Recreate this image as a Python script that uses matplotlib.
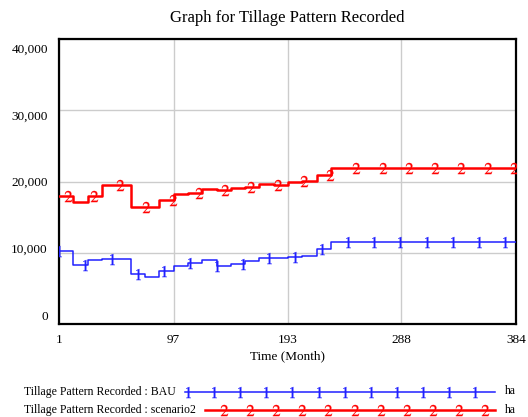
import numpy as np
import matplotlib
matplotlib.use("Agg")
import matplotlib.pyplot as plt

plt.rcParams["font.family"] = ["Liberation Serif", "DejaVu Serif"]
plt.rcParams["mathtext.fontset"] = "stix"

# yearly steps (month 1, 13, 25, ...), held flat after the last change
year_start = 1 + 12 * np.arange(20)
bau = [10300, 8320, 8980, 9080, 9080, 7060, 6640, 7440, 8140, 8520,
       8980, 8180, 8420, 8880, 9300, 9220, 9450, 9540, 10570, 11550]
scenario2 = [17900, 17080, 17960, 19500, 19500, 16380, 16380, 17360, 18200, 18340,
             18990, 18770, 19130, 19270, 19690, 19440, 19860, 20070, 20910, 21850]
t_end = 384

x_ticks = [1, 97, 193, 288, 384]
y_grid = [0, 10000, 20000, 30000, 40000]
y_labels = ["0", "10,000", "20,000", "30,000", "40,000"]


def step_series(vals):
    t = np.append(year_start, t_end)
    v = np.append(vals, vals[-1])
    return t, v


def value_at(vals, t):
    idx = np.searchsorted(year_start, t, side="right") - 1
    return np.asarray(vals)[idx]


fig = plt.figure(figsize=(5.28, 4.17), dpi=100)
W, H = 528, 417
ax = fig.add_axes([59 / W, 1 - 324 / H, 457 / W, 285 / H])

tb, vb = step_series(bau)
tr, vr = step_series(scenario2)
ax.plot(tb, vb, drawstyle="steps-post", color="#2020ff", lw=1.1, zorder=3)
ax.plot(tr, vr, drawstyle="steps-post", color="#ff0000", lw=1.8, zorder=3)

# numbered markers along each run
mk_style = dict(ls="none", ms=8, mew=0.2, zorder=4)
mb = 1 + 22 * np.arange(18)
mr = 8.3 + 22 * np.arange(18)
ax.plot(mb, value_at(bau, mb), marker="$1$", color="#2020ff", **mk_style)
ax.plot(mr, value_at(scenario2, mr), marker="$2$", color="#ff0000", **mk_style)

ax.set_xlim(1, 384)
ax.set_ylim(0, 40000)
ax.set_xticks(x_ticks)
ax.set_xticklabels([str(v) for v in x_ticks], fontsize=9.5)
ax.xaxis.grid(True, color="#cccccc", lw=1.0)

# grid on the round values, labels spread slightly inside the frame
ax.set_yticks(y_grid, minor=True)
ax.yaxis.grid(True, which="minor", color="#cccccc", lw=1.0)
label_pos = 1263 + np.array(y_grid) * 0.9368
ax.set_yticks(label_pos)
ax.set_yticklabels(y_labels, fontsize=9.5)
ax.tick_params(which="both", length=0)
ax.tick_params(axis="y", pad=8)
ax.tick_params(axis="x", pad=7)
ax.set_axisbelow(True)
for s in ax.spines.values():
    s.set_linewidth(1.6)

ax.set_xlabel("Time (Month)", fontsize=9.5, labelpad=3)
fig.text(0.5 * (59 + 516) / W, 1 - 18 / H, "Graph for Tillage Pattern Recorded",
         ha="center", va="center", fontsize=12)

# legend rows drawn in pixel units
lg = fig.add_axes([0, 0, 1, 1], facecolor="none")
lg.set_xlim(0, W)
lg.set_ylim(H, 0)
lg.axis("off")
rows = [("Tillage Pattern Recorded : BAU", 185, 391.5, "#2020ff", 1.1, "$1$", 188),
        ("Tillage Pattern Recorded : scenario2", 205, 410, "#ff0000", 1.8, "$2$", 224)]
for label, x0, y, col, lw, mk, m0 in rows:
    lg.text(24, y, label, ha="left", va="center", fontsize=8.5)
    lg.plot([x0, 495], [y, y], color=col, lw=lw)
    mx = np.arange(m0, 490, 26.1)
    lg.plot(mx, np.full_like(mx, y), marker=mk, color=col, **mk_style)
    lg.text(505, y, "ha", ha="left", va="center", fontsize=8.5)

fig.savefig("out.png", dpi=100)
